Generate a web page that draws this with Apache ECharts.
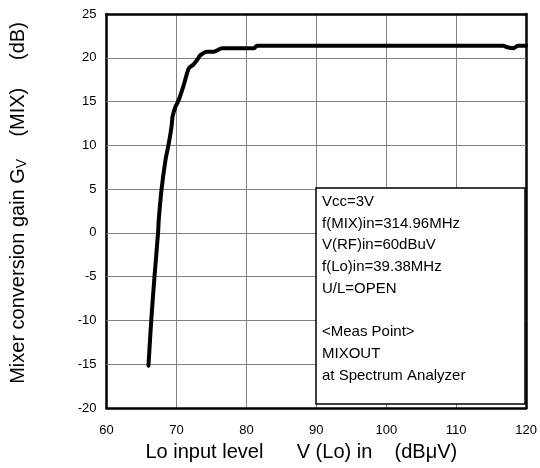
<!DOCTYPE html>
<html><head><meta charset="utf-8">
<script src="https://cdn.jsdelivr.net/npm/echarts@6/dist/echarts.min.js"></script>
<style>html,body{margin:0;padding:0;background:#fff}#c{width:540px;height:468px}</style>
</head><body><div id="c"></div>
<script>
const loLevel = [66.0, 66.4, 66.86, 67.38, 67.47, 67.86, 68.43, 68.9, 69.29, 69.45, 69.86, 70.33, 71.05, 71.76, 72.4, 72.95, 73.43, 74.38, 75.33, 76.52, 81.05, 81.52, 100, 116.7, 117.3, 118.2, 118.8, 120];
const gain    = [-15.17, -9.95, -5.0, 0.1, 1.47, 4.9, 8.3, 10.2, 12.1, 13.3, 14.4, 15.17, 16.9, 18.8, 19.2, 19.74, 20.3, 20.7, 20.7, 21.08, 21.08, 21.37, 21.37, 21.37, 21.2, 21.08, 21.37, 21.37];
const xTicks = [60, 70, 80, 90, 100, 110, 120];
const yTicks = [-20, -15, -10, -5, 0, 5, 10, 15, 20, 25];
const noteLines = ['Vcc=3V', 'f(MIX)in=314.96MHz', 'V(RF)in=60dBuV', 'f(Lo)in=39.38MHz', 'U/L=OPEN', '', '<Meas Point>', 'MIXOUT', 'at Spectrum Analyzer'];

const chart = echarts.init(document.getElementById('c'));
const font = 'Arial, "Liberation Sans", sans-serif';
const frame = {show: true, onZero: false, lineStyle: {color: '#000', width: 2.5}};
const gridStyle = {color: '#808080', width: 1, type: 'solid'};
chart.setOption({
  animation: false,
  grid: {left: 106, top: 14, right: 13, bottom: 60},
  xAxis: [{
    type: 'value', min: xTicks[0], max: xTicks[xTicks.length-1], interval: 10,
    name: 'Lo input level      V (Lo) in    (dB\u03bcV)', nameLocation: 'middle', nameGap: 34,
    nameTextStyle: {fontFamily: font, fontSize: 20, color: '#000', padding: [0, 30, 0, 0]},
    axisLine: frame, axisTick: {show: false},
    axisLabel: {fontFamily: font, fontSize: 13, color: '#000', margin: 16},
    splitLine: {show: true, lineStyle: gridStyle}
  }, {
    type: 'value', position: 'top', min: xTicks[0], max: xTicks[xTicks.length-1], interval: 10,
    axisLine: frame, axisTick: {show: false}, axisLabel: {show: false}, splitLine: {show: false}
  }],
  yAxis: [{
    type: 'value', min: yTicks[0], max: yTicks[yTicks.length-1], interval: 5,
    name: 'Mixer conversion gain G{sub|V}    (MIX)     (dB)', nameLocation: 'middle', nameGap: 77, nameRotate: 90,
    nameTextStyle: {fontFamily: font, fontSize: 20, color: '#000', padding: [0, 0, 0, 16],
      rich: {sub: {fontFamily: font, fontSize: 14, color: '#000', verticalAlign: 'bottom', padding: [9, 0, 0, 0]}}},
    axisLine: frame, axisTick: {show: false},
    axisLabel: {fontFamily: font, fontSize: 13, color: '#000', margin: 10},
    splitLine: {show: true, lineStyle: gridStyle}
  }, {
    type: 'value', position: 'right', min: yTicks[0], max: yTicks[yTicks.length-1], interval: 5,
    axisLine: frame, axisTick: {show: false}, axisLabel: {show: false}, splitLine: {show: false}
  }],
  series: [{
    type: 'line', data: loLevel.map((x, i) => [x, gain[i]]),
    showSymbol: false, smooth: 0.25, lineStyle: {color: '#000', width: 4, cap: 'round', join: 'round'}, z: 5,
    markLine: {
      silent: true, symbol: 'none', animation: false, label: {show: false},
      lineStyle: gridStyle,
      data: yTicks.slice(1, -1).map(v => ({yAxis: v}))
    }
  }],
  graphic: [
    {type: 'rect', shape: {x: 316, y: 188, width: 209, height: 216}, style: {fill: '#fff', stroke: '#000', lineWidth: 1.5}, z: 10},
    {type: 'text', left: 322, top: 191, z: 11,
      style: {text: noteLines.join('\n'), font: '15px ' + font, fill: '#000', lineHeight: 21.7}}
  ]
});
</script></body></html>
